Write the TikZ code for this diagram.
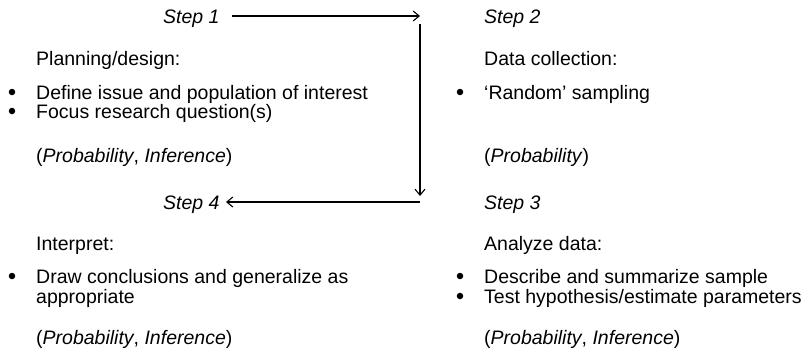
\documentclass[tikz,border=0pt]{standalone}
\usepackage{fontspec}
\setmainfont{Liberation Sans}
\usetikzlibrary{arrows.meta}
\begin{document}
\begin{tikzpicture}[x=1pt,y=-1pt,
  txt/.style={anchor=base west,inner sep=0pt,font=\fontsize{19.5}{20}\selectfont},
  steplbl/.style={txt,font=\fontsize{19.5}{20}\selectfont\itshape},
  bul/.style={circle,fill=black,inner sep=0pt,minimum size=6.5pt},
  flow/.style={line width=1.2pt,-{Straight Barb[length=6pt,width=10pt,line width=1.1pt]}}]
\useasboundingbox (0,0) rectangle (806,354);
% step labels
\node[steplbl] (s1) at (163,23) {Step 1};
\node[steplbl] (s2) at (484,23) {Step 2};
\node[steplbl] (s4) at (163,209) {Step 4};
\node[steplbl] (s3) at (484,209) {Step 3};
% corner coordinates
\coordinate (c1) at (420,16);
\coordinate (c1b) at (420,24);
\coordinate (c2t) at (420,196);
\coordinate (c2) at (420,202);
\coordinate (s4e) at (226,202);
\coordinate (s1e) at (232,16);
\draw[flow] (s1e) -- (c1);
\draw[flow] (c1b) -- (c2t);
\draw[flow] (c2) -- (s4e);
% step 1 block
\node[txt] (p1h) at (36,65) {Planning/design:};
\node[bul] (p1b1) at (12,92) {};
\node[txt] (p1t1) at (36,99) {Define issue and population of interest};
\node[bul] (p1b2) at (12,111) {};
\node[txt] (p1t2) at (36,118) {Focus research question(s)};
\node[txt] (p1p) at (36,162) {(\textit{Probability}, \textit{Inference})};
% step 2 block
\node[txt] (p2h) at (484,65) {Data collection:};
\node[bul] (p2b1) at (460,92) {};
\node[txt] (p2t1) at (484,99) {‘Random’ sampling};
\node[txt] (p2p) at (484,162) {(\textit{Probability})};
% step 4 block
\node[txt] (p4h) at (36,250) {Interpret:};
\node[bul] (p4b1) at (12,276) {};
\node[txt] (p4t1) at (36,283) {Draw conclusions and generalize as};
\node[txt] (p4t2) at (36,303) {appropriate};
\node[txt] (p4p) at (36,344) {(\textit{Probability}, \textit{Inference})};
% step 3 block
\node[txt] (p3h) at (484,250) {Analyze data:};
\node[bul] (p3b1) at (460,276) {};
\node[txt] (p3t1) at (484,283) {Describe and summarize sample};
\node[bul] (p3b2) at (460,296) {};
\node[txt] (p3t2) at (484,303) {Test hypothesis/estimate parameters};
\node[txt] (p3p) at (484,344) {(\textit{Probability}, \textit{Inference})};
\end{tikzpicture}
\end{document}
